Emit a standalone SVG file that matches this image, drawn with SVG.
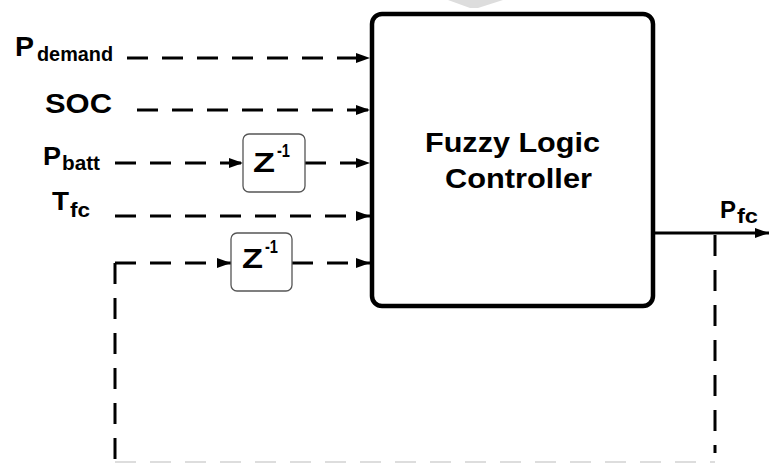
<svg xmlns="http://www.w3.org/2000/svg" width="769" height="463" viewBox="0 0 769 463">
<defs>
<style>
.t{font-family:"Liberation Sans",Arial,sans-serif;font-weight:bold;fill:#000}
.d{fill:none;stroke:#000;stroke-width:3;stroke-dasharray:21 14}
.z{fill:#fff;stroke:#555;stroke-width:1.3}
</style>
<marker id="ah" markerUnits="userSpaceOnUse" markerWidth="14" markerHeight="10" refX="14" refY="5" orient="auto">
<path d="M0,0 L14,5 L0,10 z" fill="#000"/>
</marker>
</defs>
<rect width="769" height="463" fill="#fff"/>
<polygon points="448,0 503,0 478,8 470,8" fill="#ddd"/>
<g id="connectors">
<path class="d" d="M127,58 H370" marker-end="url(#ah)"/>
<path class="d" d="M137,110 H370" marker-end="url(#ah)"/>
<path class="d" d="M115,163 H243" marker-end="url(#ah)"/>
<path class="d" d="M305,163 H370" marker-end="url(#ah)"/>
<path class="d" d="M115,216 H370" marker-end="url(#ah)"/>
<path class="d" d="M115,263 H231" marker-end="url(#ah)"/>
<path class="d" d="M292,263 H370" marker-end="url(#ah)"/>
<path class="d" d="M115,263 V463"/>
<path class="d" d="M715,235 V453"/>
<path d="M115,462 H715" fill="none" stroke="#ddd" stroke-width="2" stroke-dasharray="21 14"/>
<path d="M655,233 H769" fill="none" stroke="#000" stroke-width="3" marker-end="url(#ah)"/>
</g>
<g id="flc">
<rect x="372" y="14" width="281" height="292" rx="10" fill="#fff" stroke="#000" stroke-width="4.5"/>
<text class="t" x="425" y="152" font-size="28" textLength="175" lengthAdjust="spacingAndGlyphs">Fuzzy Logic</text>
<text class="t" x="445" y="188" font-size="28" textLength="147" lengthAdjust="spacingAndGlyphs">Controller</text>
</g>
<g id="z1">
<rect class="z" x="243" y="134" width="62" height="58" rx="6"/>
<text class="t" x="253" y="172" font-size="28" textLength="22" lengthAdjust="spacingAndGlyphs">Z</text>
<text class="t" x="277" y="157" font-size="18" textLength="13" lengthAdjust="spacingAndGlyphs">-1</text>
</g>
<g id="z2">
<rect class="z" x="231" y="233" width="61" height="58" rx="6"/>
<text class="t" x="242" y="268" font-size="28" textLength="21" lengthAdjust="spacingAndGlyphs">Z</text>
<text class="t" x="265" y="253" font-size="18" textLength="13" lengthAdjust="spacingAndGlyphs">-1</text>
</g>
<g id="labels">
<text class="t" x="15" y="56" font-size="28" textLength="19" lengthAdjust="spacingAndGlyphs">P</text>
<text class="t" x="37" y="61" font-size="20" textLength="76" lengthAdjust="spacingAndGlyphs">demand</text>
<text class="t" x="45" y="113" font-size="28" textLength="67" lengthAdjust="spacingAndGlyphs">SOC</text>
<text class="t" x="43" y="165" font-size="26" textLength="18" lengthAdjust="spacingAndGlyphs">P</text>
<text class="t" x="62" y="170" font-size="20" textLength="38" lengthAdjust="spacingAndGlyphs">batt</text>
<text class="t" x="52" y="210" font-size="26" textLength="17" lengthAdjust="spacingAndGlyphs">T</text>
<text class="t" x="70" y="217" font-size="20" textLength="20" lengthAdjust="spacingAndGlyphs">fc</text>
<text class="t" x="720" y="218" font-size="23" textLength="16" lengthAdjust="spacingAndGlyphs">P</text>
<text class="t" x="737" y="223" font-size="20" textLength="21" lengthAdjust="spacingAndGlyphs">fc</text>
</g>
</svg>
